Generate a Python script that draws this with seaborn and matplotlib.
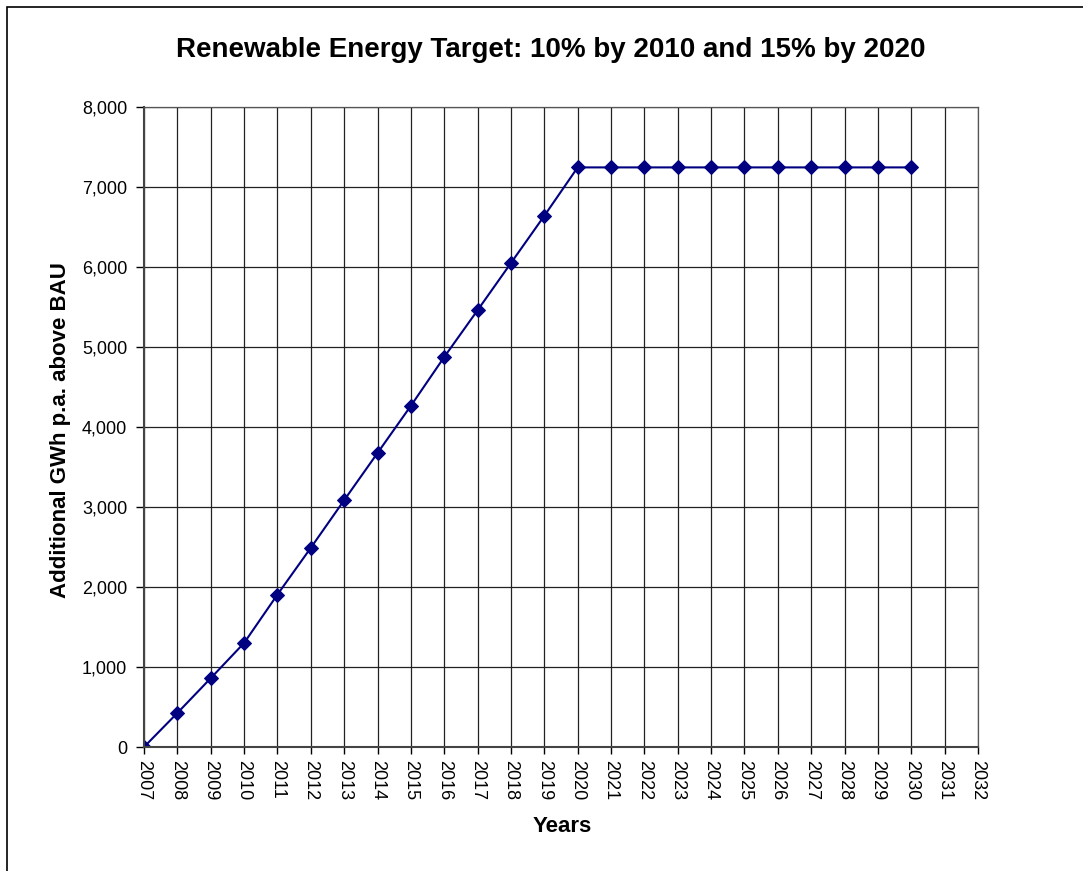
import numpy as np
import pandas as pd
import seaborn as sns
import matplotlib.pyplot as plt
from matplotlib.patches import Rectangle
from matplotlib.ticker import FuncFormatter

# values
years = list(range(2007, 2031))
gwh = [0, 425, 860, 1300, 1905, 2490, 3085, 3675, 4265, 4875, 5460, 6050, 6640,
       7245, 7245, 7245, 7245, 7245, 7245, 7245, 7245, 7245, 7245, 7245]
x_ticks = list(range(2007, 2033))
y_ticks = [0, 1000, 2000, 3000, 4000, 5000, 6000, 7000, 8000]

title = "Renewable Energy Target: 10% by 2010 and 15% by 2020"
x_label = "Years"
y_label = "Additional GWh p.a. above BAU"

df = pd.DataFrame({"year": years, "gwh": gwh})

sns.set_style("white")
plt.rcParams['font.family'] = ['Liberation Sans', 'DejaVu Sans']
plt.rcParams['text.color'] = 'black'
plt.rcParams['axes.labelcolor'] = 'black'
plt.rcParams['xtick.color'] = 'black'
plt.rcParams['ytick.color'] = 'black'

fig = plt.figure(figsize=(10.83, 8.71), dpi=100)
ax = fig.add_axes([144 / 1083, 1 - 747 / 871, (978 - 144) / 1083, (747 - 107) / 871])

# outer chart border like the Excel chart area
fig.patches.append(Rectangle((7 / 1083, -0.05), 1.1, 1 - 7 / 871 + 0.05,
                             transform=fig.transFigure, fill=False,
                             edgecolor='black', linewidth=1.2))

sns.lineplot(data=df, x="year", y="gwh", ax=ax, color='#000080', linewidth=1.5,
             marker='D', markersize=7, markeredgecolor='#000080')

ax.set_xlim(2007, 2032)
ax.set_ylim(0, 8000)
ax.set_xticks(x_ticks)
ax.set_yticks(y_ticks)
ax.yaxis.set_major_formatter(FuncFormatter(lambda v, p: f"{int(v):,}"))
ax.tick_params(axis='x', labelrotation=-90, labelsize=13, length=5, width=1,
               direction='out', bottom=True, pad=4)
ax.tick_params(axis='y', labelsize=13, length=6, width=1, direction='out',
               left=True, pad=6)
for lab in ax.get_xticklabels():
    lab.set_verticalalignment('top')

ax.grid(True, color='#222222', linewidth=0.9)
ax.set_axisbelow(True)
for side in ['top', 'right']:
    ax.spines[side].set_color('#555555')
    ax.spines[side].set_linewidth(0.9)
for side in ['left', 'bottom']:
    ax.spines[side].set_color('#444444')
    ax.spines[side].set_linewidth(1.5)

ax.set_xlabel(x_label, fontsize=16, fontweight='bold')
ax.set_ylabel(y_label, fontsize=16, fontweight='bold')
ax.xaxis.set_label_coords((562 - 144) / (978 - 144), -(826 - 747) / (747 - 107))
ax.yaxis.set_label_coords(-(144 - 61) / (978 - 144), (747 - 430) / (747 - 107))
ax.xaxis.label.set_verticalalignment('center')
ax.yaxis.label.set_verticalalignment('center')
fig.text(551 / 1083, 1 - 50 / 871, title, fontsize=20, fontweight='bold',
         ha='center', va='center')

fig.savefig("out.png", dpi=100)
